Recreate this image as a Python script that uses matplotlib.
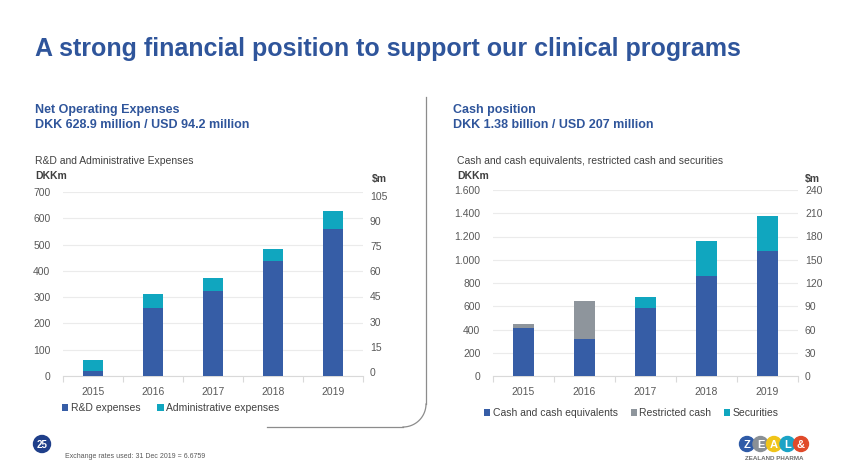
import matplotlib.pyplot as plt
import matplotlib.patches as mpatches
from matplotlib.ticker import FuncFormatter, FixedLocator
import numpy as np

plt.rcParams['font.family'] = ['Liberation Sans', 'DejaVu Sans']

# data
years = ["2015", "2016", "2017", "2018", "2019"]
rd_expenses = [20, 260, 322, 437, 560]
admin_expenses = [42, 52, 49, 45, 69]

cash_equiv = [416, 321, 588, 860, 1075]
restricted_cash = [28, 324, 0, 0, 0]
securities = [0, 0, 89, 301, 305]

dark_blue = "#365DA6"
teal = "#10A6BF"
grey = "#8E959C"
title_blue = "#2F559B"
txt_grey = "#595959"
grid_c = "#EBEBEB"

fig = plt.figure(figsize=(8.5, 4.75), dpi=100)
W, H = 850, 475


def fx(px):
    return px / W


def fy(py):
    return 1 - py / H


def style_axes(ax, ax2):
    x = np.arange(len(years))
    ax.set_xlim(-0.5, len(years) - 0.5)
    ax.set_xticks(x)
    ax.set_xticklabels(years)
    ax.xaxis.set_minor_locator(FixedLocator(np.arange(-0.5, len(years), 1)))
    ax.tick_params(axis="x", which="major", length=0, pad=8, labelsize=7.5, labelcolor=txt_grey)
    ax.tick_params(axis="x", which="minor", length=4, color="#D9D9D9", width=0.8)
    ax.tick_params(axis="y", length=0, pad=9, labelsize=7.5, labelcolor=txt_grey)
    ax.grid(axis="y", color=grid_c, linewidth=0.8)
    ax.set_axisbelow(True)
    for s in ["top", "right", "left"]:
        ax.spines[s].set_visible(False)
    ax.spines["bottom"].set_color("#D9D9D9")
    for s in ax2.spines.values():
        s.set_visible(False)
    ax2.tick_params(axis="y", length=0, pad=5, labelsize=7.5, labelcolor=txt_grey)


# left chart
ax1 = fig.add_axes([fx(63), fy(376), fx(300), (376 - 192) / H])
x = np.arange(len(years))
ax1.bar(x, rd_expenses, width=0.34, color=dark_blue, label="R&D expenses", zorder=3)
ax1.bar(x, admin_expenses, width=0.34, bottom=rd_expenses, color=teal,
        label="Administrative expenses", zorder=3)
ax1.set_ylim(0, 700)
ax1.set_yticks(range(0, 701, 100))
ax1b = ax1.twinx()
ax1b.set_ylim(-2.4, 107.2)
ax1b.set_yticks(range(0, 106, 15))
style_axes(ax1, ax1b)

ax1.legend(loc="upper left", bbox_to_anchor=(fx(58), fy(399)), bbox_transform=fig.transFigure,
           ncol=2, frameon=False, fontsize=7.5, handlelength=0.6, handleheight=0.6,
           handletextpad=0.25, columnspacing=1.6, labelcolor="#404040", borderaxespad=0)

# right chart
dkk_fmt = FuncFormatter(lambda v, p: f"{int(v):,}".replace(",", "."))
ax2 = fig.add_axes([fx(493), fy(376), fx(305), (376 - 190) / H])
bottom2 = [a + b for a, b in zip(cash_equiv, restricted_cash)]
ax2.bar(x, cash_equiv, width=0.33, color=dark_blue, label="Cash and cash equivalents", zorder=3)
ax2.bar(x, restricted_cash, width=0.33, bottom=cash_equiv, color=grey,
        label="Restricted cash", zorder=3)
ax2.bar(x, securities, width=0.33, bottom=bottom2, color=teal, label="Securities", zorder=3)
ax2.set_ylim(0, 1600)
ax2.set_yticks(range(0, 1601, 200))
ax2.yaxis.set_major_formatter(dkk_fmt)
ax2b = ax2.twinx()
ax2b.set_ylim(0, 240)
ax2b.set_yticks(range(0, 241, 30))
style_axes(ax2, ax2b)

ax2.legend(loc="upper left", bbox_to_anchor=(fx(480), fy(404)), bbox_transform=fig.transFigure,
           ncol=3, frameon=False, fontsize=7.5, handlelength=0.6, handleheight=0.6,
           handletextpad=0.25, columnspacing=1.2, labelcolor="#404040", borderaxespad=0)

# texts
fig.text(fx(35), fy(49), "A strong financial position to support our clinical programs",
         fontsize=18, fontweight="bold", color=title_blue, va="center")
fig.text(fx(35), fy(110), "Net Operating Expenses", fontsize=9, fontweight="bold",
         color=title_blue, va="center")
fig.text(fx(35), fy(125), "DKK 628.9 million / USD 94.2 million", fontsize=9,
         fontweight="bold", color=title_blue, va="center")
fig.text(fx(35), fy(161), "R&D and Administrative Expenses", fontsize=7.5, color="#404040", va="center")
fig.text(fx(35), fy(176), "DKKm", fontsize=7.5, fontweight="bold", color="#404040", va="center")
fig.text(fx(372), fy(179), "$m", fontsize=7.5, fontweight="bold", color="#404040", va="center")

fig.text(fx(453), fy(110), "Cash position", fontsize=9, fontweight="bold",
         color=title_blue, va="center")
fig.text(fx(453), fy(125), "DKK 1.38 billion / USD 207 million", fontsize=9,
         fontweight="bold", color=title_blue, va="center")
fig.text(fx(457), fy(161), "Cash and cash equivalents, restricted cash and securities",
         fontsize=7.5, color="#404040", va="center")
fig.text(fx(457), fy(176), "DKKm", fontsize=7.5, fontweight="bold", color="#404040", va="center")
fig.text(fx(805), fy(179), "$m", fontsize=7.5, fontweight="bold", color="#404040", va="center")

# overlay for decorations (divider, page number, logo)
ov = fig.add_axes([0, 0, 1, 1], zorder=-1)
ov.set_xlim(0, W)
ov.set_ylim(H, 0)
ov.axis("off")
r = 23
ov.plot([426, 426], [97, 427 - r], color="#8C8C8C", lw=0.9)
ov.plot([267, 426 - r], [427, 427], color="#8C8C8C", lw=0.9)
t = np.linspace(0, np.pi / 2, 30)
ov.plot(426 - r + r * np.cos(t), 427 - r + r * np.sin(t), color="#8C8C8C", lw=0.9)

ov.add_patch(mpatches.Circle((42, 444), 8.5, color="#1F3F8A"))
ov.text(42, 444.5, "25", fontsize=7, fontweight="bold", color="white", ha="center", va="center")
ov.text(65, 456, "Exchange rates used: 31 Dec 2019 = 6.6759", fontsize=5, color="#595959", va="center")

logo_letters = ["Z", "E", "A", "L", "&"]
logo_colors = ["#2F5BA7", "#8A9096", "#F0C419", "#1BA3C6", "#E04A2A"]
for i, (ch, c) in enumerate(zip(logo_letters, logo_colors)):
    cx = 747 + i * 13.5
    ov.add_patch(mpatches.Circle((cx, 444), 7.5, color=c, zorder=2 + i))
    ov.text(cx, 444.5, ch, fontsize=8, fontweight="bold", color="white",
            ha="center", va="center", zorder=10)
ov.text(774, 459, "ZEALAND PHARMA", fontsize=4.5, fontweight="bold", color="#6E6E6E",
        ha="center", va="center")

fig.savefig("out.png", dpi=100)
